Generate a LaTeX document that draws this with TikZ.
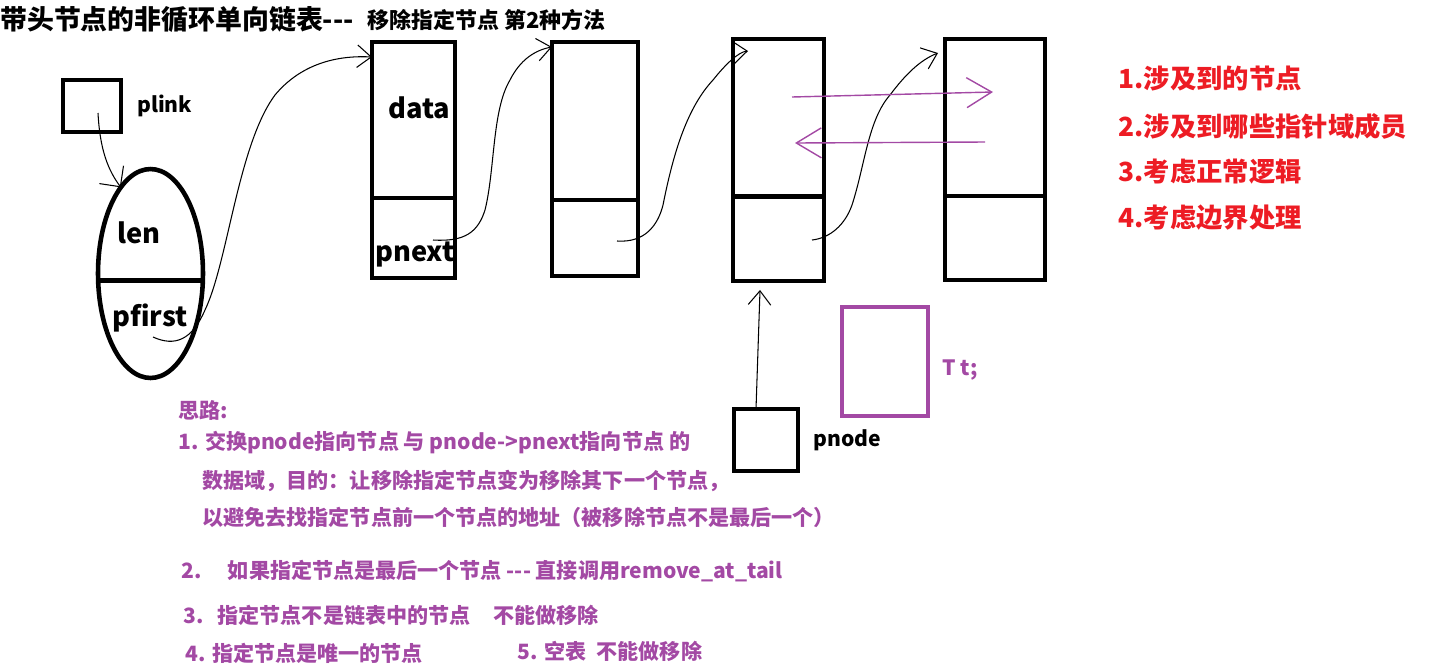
\documentclass[tikz,border=0pt]{standalone}
\usepackage{fontspec}
\setmainfont{Noto Sans CJK SC}
\usepackage{tikz}
\usetikzlibrary{arrows.meta,positioning,shapes.geometric}
\definecolor{llpurple}{RGB}{163,73,164}
\definecolor{llred}{RGB}{237,28,36}
\newcommand{\hy}{\mbox{-}}
\tikzset{
  llcell/.style={draw, line width=2.6pt, outer sep=0pt, inner sep=0pt},
  llbox/.style={draw, line width=2.6pt, outer sep=0pt, inner sep=0pt},
  llhead/.style={draw, ellipse, line width=2.6pt, outer sep=0pt, inner sep=0pt, minimum width=2.1cm, minimum height=4.18cm},
  llfield/.style={inner sep=0pt, anchor=base west, font=\fontsize{15.5}{19}\selectfont\bfseries},
  llname/.style={inner sep=0pt, font=\fontsize{12}{15}\selectfont\bfseries},
  llnote/.style={inner sep=0pt, anchor=west, text=llpurple, font=\fontsize{12}{15}\selectfont\bfseries},
  llstep/.style={inner sep=0pt, anchor=west, text=llred, font=\fontsize{15}{18}\selectfont\bfseries},
  llarr/.style={-{Straight Barb[length=2.8mm, width=4.5mm]}, line width=0.6pt},
  llarrbig/.style={-{Straight Barb[length=3mm, width=6mm]}, line width=0.6pt},
  llswap/.style={-{Straight Barb[length=5mm, width=6mm]}, line width=0.8pt, draw=llpurple}
}
\begin{document}
\begin{tikzpicture}[x=0.02cm, y=-0.02cm]
  \useasboundingbox (0,0) rectangle (1450,664);
  \node[inner sep=0pt, anchor=west, font=\fontsize{15.3}{18}\selectfont\bfseries] (title) at (0,19) {带头节点的非循环单向链表\hy\hy\hy};
  \node[inner sep=0pt, anchor=west, font=\fontsize{12.5}{15}\selectfont\bfseries] (subtitle) at (367,20) {移除指定节点 第2种方法};

  \node[llbox, minimum width=1.16cm, minimum height=1.04cm] (plink) at (92,106) {};
  \node[llname, right=0.32cm of plink] (plinktxt) {plink};
  \node[llhead] (head) at (150.5,273.5) {};
  \draw[line width=2.6pt] ([yshift=-0.14cm]head.west) -- ([yshift=-0.14cm]head.east);
  \node[llfield] (lentxt) at (117,243) {len};
  \node[llfield] (pfirsttxt) at (112,326) {pfirst};

  \node[llcell, minimum width=1.66cm, minimum height=3.12cm] (d1) at (413.5,120) {};
  \node[llcell, minimum width=1.66cm, minimum height=1.6cm, below=0pt of d1] (n1) {};
  \node[llfield] (datatxt) at (388,118) {data};
  \node[llfield] (pnexttxt) at (375,261) {pnext};
  \node[llcell, minimum width=1.72cm, minimum height=3.16cm] (d2) at (595,121) {};
  \node[llcell, minimum width=1.72cm, minimum height=1.52cm, below=0pt of d2] (n2) {};
  \node[llcell, minimum width=1.82cm, minimum height=3.15cm] (d3) at (778.5,117.75) {};
  \node[llcell, minimum width=1.82cm, minimum height=1.69cm, below=0pt of d3] (n3) {};
  \node[llcell, minimum width=2.0cm, minimum height=3.14cm] (d4) at (995,117.5) {};
  \node[llcell, minimum width=2.0cm, minimum height=1.68cm, below=0pt of d4] (n4) {};

  \node[llbox, minimum width=1.28cm, minimum height=1.24cm] (pnode) at (766,440) {};
  \node[llname, right=0.3cm of pnode] (pnodetxt) {pnode};
  \node[llbox, draw=llpurple, minimum width=1.72cm, minimum height=2.18cm] (tbox) at (885,361.5) {};
  \node[llname, anchor=base west, text=llpurple] (ttxt) at (942,375) {T t;};

  \coordinate (plinkptr) at (98,113);
  \coordinate (pfirstptr) at (153,337);
  \coordinate (pnextptr) at (433,240);
  \coordinate (n2ptr) at (617,241);
  \coordinate (n3ptr) at (812,240);
  \coordinate (swapa) at (792,97);
  \coordinate (swapb) at (993,92);
  \coordinate (swapc) at (985,142);
  \coordinate (swapd) at (795,143);

  \draw[llarrbig] (plinkptr) .. controls (100,150) and (108,170) .. (head.109);
  \draw[llarr] (pfirstptr) .. controls (175,347) and (192,340) .. (205,310) .. controls (228,262) and (238,145) .. (275,95) .. controls (300,65) and (335,55) .. ([yshift=-0.3cm]d1.north west);
  \draw[llarr] (pnextptr) .. controls (465,242) and (478,232) .. (485,210) .. controls (495,170) and (492,110) .. (510,80) .. controls (520,60) and (535,50) .. ([yshift=-0.1cm]d2.north west);
  \draw[llarr] (n2ptr) .. controls (645,243) and (658,225) .. (663,205) .. controls (672,160) and (685,110) .. (713,80) .. controls (725,65) and (738,52) .. ([xshift=0.3cm, yshift=-0.24cm]d3.north west);
  \draw[llarr] (n3ptr) .. controls (830,238) and (845,225) .. (852,205) .. controls (865,165) and (868,120) .. (890,95) .. controls (905,75) and (920,60) .. ([xshift=-0.14cm, yshift=-0.28cm]d4.north west);
  \draw[llarr] ([xshift=-0.2cm]pnode.north) -- ([xshift=-0.37cm, yshift=-0.18cm]n3.south);
  \draw[llswap] (swapa) -- (swapb);
  \draw[llswap] (swapc) -- (swapd);

  \node[llstep] (step1) at (1118,79) {1.涉及到的节点};
  \node[llstep] (step2) at (1118,126) {2.涉及到哪些指针域成员};
  \node[llstep] (step3) at (1118,172) {3.考虑正常逻辑};
  \node[llstep] (step4) at (1118,217.5) {4.考虑边界处理};

  \node[llnote] (idea) at (178,410) {思路:};
  \node[llnote] (idea1) at (178,443) {1. 交换pnode指向节点 与 pnode->pnext指向节点 的};
  \node[llnote] (idea1b) at (202,481) {数据域，目的：让移除指定节点变为移除其下一个节点，};
  \node[llnote] (idea1c) at (202,517) {以避免去找指定节点前一个节点的地址（被移除节点不是最后一个）};
  \node[llnote] (idea2) at (181,571) {2.\hspace{15pt}如果指定节点是最后一个节点 \hy\hy\hy{} 直接调用remove\_at\_tail};
  \node[llnote] (idea3) at (183,615) {3.\hspace{8pt}指定节点不是链表中的节点\hspace{13pt}不能做移除};
  \node[llnote] (idea4) at (185,653) {4. 指定节点是唯一的节点};
  \node[llnote] (idea5) at (517,651) {5. 空表\hspace{6pt}不能做移除};
\end{tikzpicture}
\end{document}
